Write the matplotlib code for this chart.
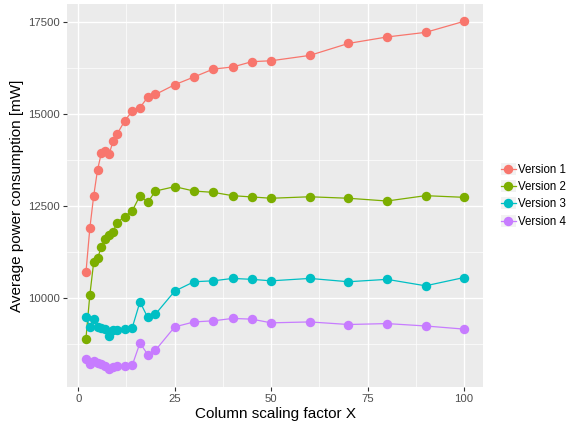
import matplotlib
matplotlib.use('Agg')
import matplotlib.pyplot as plt
from matplotlib.legend_handler import HandlerLine2D
from matplotlib.patches import Rectangle

plt.rcParams['font.family'] = ['Liberation Sans', 'DejaVu Sans']

# Column scaling factor X
scale = [2, 3, 4, 5, 6, 7, 8, 9, 10, 12, 14, 16, 18, 20, 25,
         30, 35, 40, 45, 50, 60, 70, 80, 90, 100]

# Average power consumption [mW] per version
version1 = [10700, 11890, 12770, 13480, 13940, 14000, 13905, 14250, 14440, 14800, 15080, 15170, 15450,
            15525, 15790, 16000, 16215, 16270, 16415, 16440, 16585, 16910, 17085, 17210, 17510]
version2 = [8905, 10080, 10970, 11080, 11390, 11600, 11700, 11790, 12045, 12210, 12370, 12780, 12600,
            12905, 13025, 12905, 12870, 12780, 12745, 12710, 12750, 12710, 12635, 12780, 12735]
version3 = [9490, 9220, 9430, 9220, 9200, 9160, 8975, 9130, 9130, 9175, 9200, 9900, 9475,
            9565, 10190, 10445, 10470, 10535, 10510, 10470, 10535, 10445, 10510, 10335, 10560]
version4 = [8360, 8225, 8290, 8245, 8205, 8160, 8065, 8135, 8150, 8160, 8180, 8785, 8470,
            8585, 9220, 9355, 9385, 9450, 9430, 9330, 9355, 9285, 9310, 9245, 9160]

labels = ['Version 1', 'Version 2', 'Version 3', 'Version 4']
colors = ['#F8766D', '#7CAE00', '#00BFC4', '#C77CFF']
series = [version1, version2, version3, version4]


# legend key with the grey ggplot-style box behind it
class KeyHandler(HandlerLine2D):
    def create_artists(self, legend, orig_handle, xdescent, ydescent, width, height, fontsize, trans):
        arts = super().create_artists(legend, orig_handle, xdescent, ydescent,
                                      width, height, fontsize, trans)
        box = Rectangle((-xdescent, -ydescent - 0.25 * height), width, 1.5 * height,
                        facecolor='#F2F2F2', edgecolor='none', transform=trans)
        return [box] + list(arts)


fig = plt.figure(figsize=(5.73, 4.24), dpi=100)
ax = fig.add_axes([0.117, 0.0873, 0.726, 0.9033])
ax.set_facecolor('#EBEBEB')

for vals, lab, col in zip(series, labels, colors):
    ax.plot(scale, vals, color=col, linewidth=0.9, marker='o', markersize=6.8,
            markeredgewidth=0, label=lab)

ax.set_xlim(-2.9, 104.9)
ax.set_ylim(7590, 17980)
ax.set_xticks([0, 25, 50, 75, 100])
ax.set_yticks([10000, 12500, 15000, 17500])
ax.set_xticks([12.5, 37.5, 62.5, 87.5], minor=True)
ax.set_yticks([8750, 11250, 13750, 16250], minor=True)
ax.grid(True, which='major', color='white', linewidth=1.0)
ax.grid(True, which='minor', color='white', linewidth=0.5)
ax.set_axisbelow(True)
for s in ax.spines.values():
    s.set_visible(False)
ax.tick_params(which='major', length=3, color='#333333', labelcolor='#4D4D4D', labelsize=8.2, pad=2)
ax.tick_params(which='minor', length=0)

ax.set_xlabel('Column scaling factor X', fontsize=11, labelpad=2)
ax.set_ylabel('Average power consumption [mW]', fontsize=11, labelpad=3)

leg = fig.legend(loc='center left', bbox_to_anchor=(0.866, 0.538), frameon=False,
                 fontsize=8.3, handlelength=1.3, handletextpad=0.2, labelspacing=0.45,
                 borderaxespad=0, handler_map={plt.Line2D: KeyHandler()})

fig.savefig('out.png', dpi=100)
